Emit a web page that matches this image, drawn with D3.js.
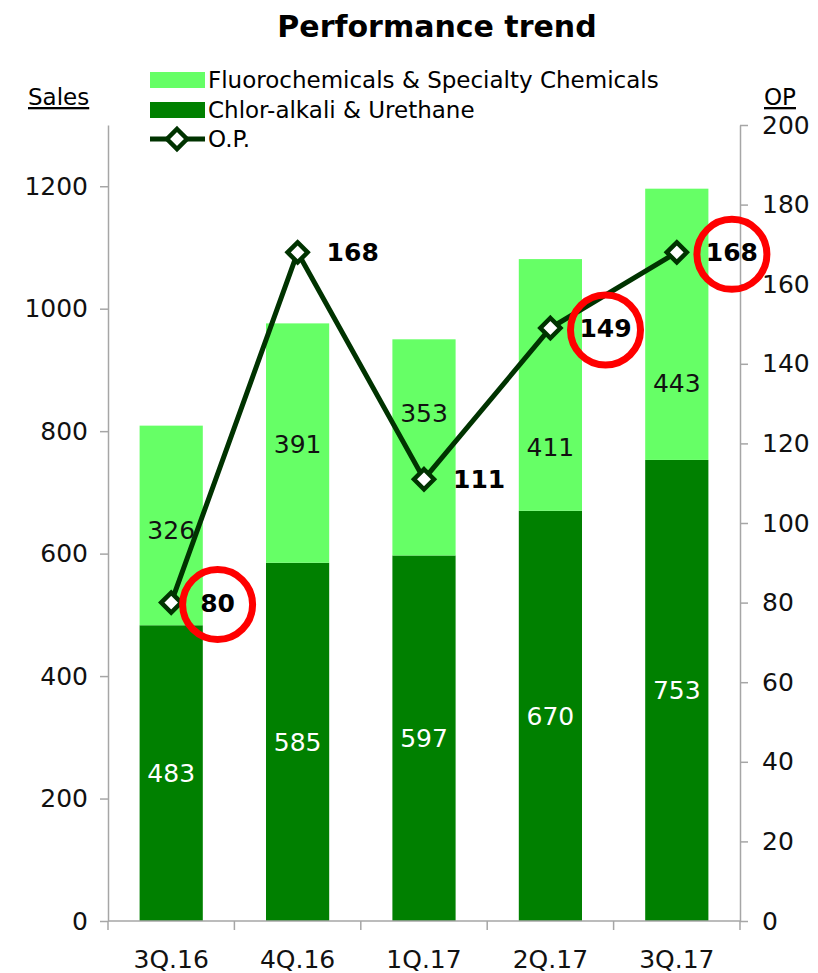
<!DOCTYPE html>
<html>
<head>
<meta charset="utf-8">
<script src="https://cdn.jsdelivr.net/npm/d3@7"></script>
<style>
  body { margin: 0; background: #fff; }
  svg { display: block; font-family: "DejaVu Sans", Verdana, sans-serif; }
</style>
</head>
<body>
<svg id="chart"></svg>
<script>
var quarters = ["3Q.16", "4Q.16", "1Q.17", "2Q.17", "3Q.17"]
var chlorAlkali = [483, 585, 597, 670, 753]
var fluoro = [326, 391, 353, 411, 443]
var opValues = [80, 168, 111, 149, 168]
// sales level where each fluoro label sits (moved off the line in the original)
var fluoroLabelAt = [638, 779, 829, 774, 878]
var circled = ["3Q.16", "2Q.17", "3Q.17"]
var salesTicks = [0, 200, 400, 600, 800, 1000, 1200]
var opTicks = [0, 20, 40, 60, 80, 100, 120, 140, 160, 180, 200]

var width = 818, height = 973
var svg = d3.select('#chart').attr('width', width).attr('height', height)

var plotLeft = 108, plotRight = 740, plotTop = 125, plotBottom = 921
var axisColor = '#a6a6a6'
var fontSize = 25

var x = d3.scaleBand().domain(quarters).range([plotLeft, plotRight])
  .paddingInner(0.5).paddingOuter(0.25)
var ySales = d3.scaleLinear().domain([0, 1300]).range([plotBottom, plotTop])
var yOp = d3.scaleLinear().domain([0, 200]).range([plotBottom, plotTop])

var rows = quarters.map(function (q, i) {
  return { q: q, dark: chlorAlkali[i], light: fluoro[i], op: opValues[i], lightAt: fluoroLabelAt[i] }
})

// title
svg.append('text').attr('x', 437).attr('y', 37)
  .attr('text-anchor', 'middle').attr('font-size', 30).attr('font-weight', 'bold')
  .text('Performance trend')

// bars
var barGroup = svg.append('g')
barGroup.selectAll('rect.dark').data(rows).enter().append('rect')
  .attr('x', function (d) { return x(d.q) })
  .attr('width', x.bandwidth())
  .attr('y', function (d) { return ySales(d.dark) })
  .attr('height', function (d) { return ySales(0) - ySales(d.dark) })
  .attr('fill', '#008000')
barGroup.selectAll('rect.light').data(rows).enter().append('rect')
  .attr('x', function (d) { return x(d.q) })
  .attr('width', x.bandwidth())
  .attr('y', function (d) { return ySales(d.dark + d.light) })
  .attr('height', function (d) { return ySales(d.dark) - ySales(d.dark + d.light) })
  .attr('fill', '#66ff66')

// bar labels
barGroup.selectAll('text.dark').data(rows).enter().append('text')
  .attr('x', function (d) { return x(d.q) + x.bandwidth() / 2 })
  .attr('y', function (d) { return ySales(d.dark / 2) + 9 })
  .attr('text-anchor', 'middle').attr('font-size', fontSize).attr('fill', '#fff')
  .text(function (d) { return d.dark })
barGroup.selectAll('text.light').data(rows).enter().append('text')
  .attr('x', function (d) { return x(d.q) + x.bandwidth() / 2 })
  .attr('y', function (d) { return ySales(d.lightAt) + 9 })
  .attr('text-anchor', 'middle').attr('font-size', fontSize).attr('fill', '#111')
  .text(function (d) { return d.light })

// axes
function styleAxis(g) {
  g.selectAll('path, line').attr('stroke', axisColor).attr('stroke-width', 1.5)
  g.selectAll('text').attr('font-family', '"DejaVu Sans", Verdana, sans-serif')
    .attr('font-size', fontSize).attr('fill', '#111')
}
var leftAxis = svg.append('g').attr('transform', 'translate(' + plotLeft + ',0)')
  .call(d3.axisLeft(ySales).tickValues(salesTicks).tickFormat(d3.format('d'))
    .tickSize(8).tickSizeOuter(0).tickPadding(12))
styleAxis(leftAxis)
var rightAxis = svg.append('g').attr('transform', 'translate(' + plotRight + ',0)')
  .call(d3.axisRight(yOp).tickValues(opTicks).tickFormat(d3.format('d'))
    .tickSize(8).tickSizeOuter(0).tickPadding(14))
styleAxis(rightAxis)

var bottomAxis = svg.append('g').attr('transform', 'translate(0,' + plotBottom + ')')
bottomAxis.append('line').attr('x1', plotLeft).attr('x2', plotRight)
  .attr('stroke', axisColor).attr('stroke-width', 1.5)
var bounds = quarters.map(function (q) { return x(q) - x.step() * 0.25 }).concat([plotRight])
bottomAxis.selectAll('line.tick').data(bounds).enter().append('line')
  .attr('x1', function (d) { return d }).attr('x2', function (d) { return d })
  .attr('y1', 0).attr('y2', 9).attr('stroke', axisColor).attr('stroke-width', 1.5)
bottomAxis.selectAll('text').data(quarters).enter().append('text')
  .attr('x', function (d) { return x(d) + x.bandwidth() / 2 })
  .attr('y', 47).attr('text-anchor', 'middle').attr('font-size', fontSize).attr('fill', '#111')
  .text(function (d) { return d })

// axis titles
svg.append('text').attr('x', 28).attr('y', 105).attr('font-size', 23)
  .attr('text-decoration', 'underline').text('Sales')
svg.append('text').attr('x', 764).attr('y', 105).attr('font-size', 23)
  .attr('text-decoration', 'underline').text('OP')

// OP line
var line = d3.line()
  .x(function (d) { return x(d.q) + x.bandwidth() / 2 })
  .y(function (d) { return yOp(d.op) })
svg.append('path').datum(rows).attr('d', line)
  .attr('fill', 'none').attr('stroke', '#003300').attr('stroke-width', 5)

function diamond(sel, cx, cy) {
  sel.append('path')
    .attr('d', 'M' + cx + ',' + (cy - 10) + 'L' + (cx + 10) + ',' + cy + 'L' + cx + ',' + (cy + 10) + 'L' + (cx - 10) + ',' + cy + 'Z')
    .attr('fill', '#fff').attr('stroke', '#003300').attr('stroke-width', 4.5)
}
rows.forEach(function (d) {
  diamond(svg, x(d.q) + x.bandwidth() / 2, yOp(d.op))
})

// OP labels
svg.selectAll('text.op').data(rows).enter().append('text')
  .attr('x', function (d) { return x(d.q) + x.bandwidth() / 2 + 29 })
  .attr('y', function (d) { return yOp(d.op) + 9 })
  .attr('font-size', fontSize).attr('font-weight', 'bold').attr('fill', '#000')
  .text(function (d) { return d.op })

// red circles
svg.selectAll('circle.hl').data(rows.filter(function (d) { return circled.indexOf(d.q) >= 0 }))
  .enter().append('circle')
  .attr('cx', function (d) { return x(d.q) + x.bandwidth() / 2 + 29 + String(d.op).length * 8.7 })
  .attr('cy', function (d) { return yOp(d.op) + 2 })
  .attr('r', 35).attr('fill', 'none').attr('stroke', '#ff0000').attr('stroke-width', 7)

// legend
var legend = svg.append('g')
legend.append('rect').attr('x', 150).attr('y', 72).attr('width', 55).attr('height', 16).attr('fill', '#66ff66')
legend.append('text').attr('x', 208).attr('y', 88).attr('font-size', 23).text('Fluorochemicals & Specialty Chemicals')
legend.append('rect').attr('x', 150).attr('y', 102).attr('width', 55).attr('height', 16).attr('fill', '#008000')
legend.append('text').attr('x', 208).attr('y', 118).attr('font-size', 23).text('Chlor-alkali & Urethane')
legend.append('line').attr('x1', 150).attr('x2', 205).attr('y1', 139).attr('y2', 139)
  .attr('stroke', '#003300').attr('stroke-width', 5)
diamond(legend, 177, 139)
legend.append('text').attr('x', 208).attr('y', 147).attr('font-size', 23).text('O.P.')
</script>
</body>
</html>
